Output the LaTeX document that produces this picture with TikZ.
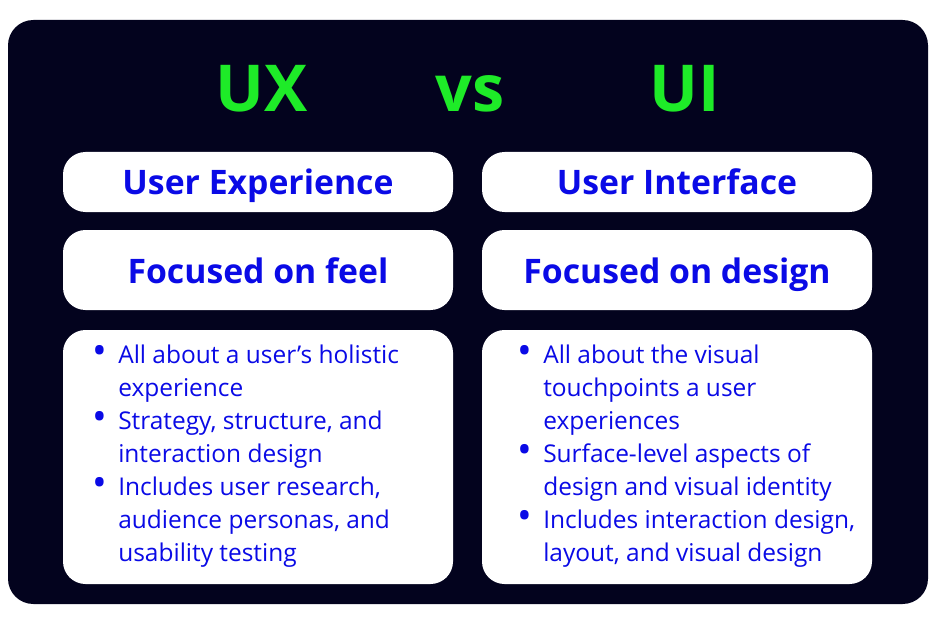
\documentclass[tikz,border=0pt]{standalone}
\usepackage{fontspec}
\setmainfont{Open Sans}
\usetikzlibrary{positioning}
\definecolor{BackClr}{RGB}{3,3,30}
\definecolor{TitleClr}{RGB}{30,235,40}
\definecolor{TextClr}{RGB}{10,10,230}
\tikzset{
  pane/.style={fill=white,rounded corners=16pt},
  title/.style={font=\fontsize{46}{50}\selectfont\bfseries,text=TitleClr,anchor=base},
  head/.style={font=\fontsize{24}{28}\selectfont\bfseries,text=TextClr,anchor=base},
  body/.style={font=\fontsize{17.4}{23.4}\selectfont,text=TextClr,align=left,anchor=north west,inner sep=0pt}
}
\newcommand{\bul}{\llap{\raisebox{-0.5pt}{\scalebox{1.6}{\textbullet}}\hspace{8pt}}}
\begin{document}
\begin{tikzpicture}[x=0.025cm,y=-0.025cm]
\useasboundingbox (0,0) rectangle (936,624);
\fill[BackClr,rounded corners=18pt] (8,20) rectangle (928,604);

\node[title] (ux) at (262,112) {UX};
\node[title] (vs) at (470,112) {vs};
\node[title] (ui) at (685,112) {UI};

% left column
\fill[pane] (63,152) rectangle (453,212);
\fill[pane] (63,230) rectangle (453,310);
\fill[pane] (63,330) rectangle (453,584);
\node[head] (uxname) at (258,195) {User Experience};
\node[head] (uxfocus) at (258,283) {Focused on feel};
\node[body] (uxlist) at (118,345) {\bul All about a user’s holistic\\experience\\\bul Strategy, structure, and\\interaction design\\\bul Includes user research,\\audience personas, and\\usability testing};

% right column
\fill[pane] (482,152) rectangle (872,212);
\fill[pane] (482,230) rectangle (872,310);
\fill[pane] (482,330) rectangle (872,584);
\node[head] (uiname) at (677,195) {User Interface};
\node[head] (uifocus) at (677,283) {Focused on design};
\node[body] (uilist) at (543,345) {\bul All about the visual\\touchpoints a user\\experiences\\\bul Surface-level aspects of\\design and visual identity\\\bul Includes interaction design,\\layout, and visual design};
\end{tikzpicture}
\end{document}
